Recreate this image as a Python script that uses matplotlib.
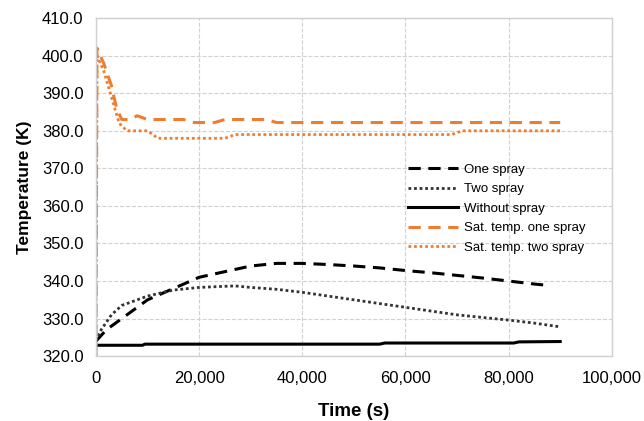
import numpy as np
import matplotlib.pyplot as plt
from matplotlib.ticker import FuncFormatter, MultipleLocator

plt.rcParams['font.family'] = ['Liberation Sans', 'DejaVu Sans']

# time (s) and temperatures (K)
t_one = [0, 2000, 5000, 10000, 15000, 20000, 25000, 30000, 35000, 40000, 45000,
         50000, 55000, 60000, 65000, 70000, 75000, 80000, 85000, 88000]
one_spray = [324.0, 327.0, 330.0, 335.0, 338.0, 341.0, 342.5, 344.0, 344.7, 344.7,
             344.4, 344.0, 343.5, 342.8, 342.2, 341.5, 340.8, 340.0, 339.2, 338.8]

t_two = [0, 1000, 3000, 5000, 10000, 15000, 20000, 25000, 27000, 30000, 35000,
         40000, 45000, 50000, 55000, 60000, 65000, 70000, 75000, 80000, 85000, 90000]
two_spray = [324.0, 327.0, 331.0, 333.5, 336.0, 337.6, 338.3, 338.6, 338.7, 338.3,
             337.8, 337.0, 336.0, 335.0, 334.0, 333.0, 332.0, 331.0, 330.3, 329.6,
             328.8, 327.8]

t_none = [0, 9000, 9500, 55000, 56000, 81000, 82000, 90000]
no_spray = [322.9, 322.9, 323.2, 323.2, 323.5, 323.5, 323.8, 323.9]

t_sat1 = [0, 200, 1500, 3000, 4000, 5000, 6500, 8000, 10000, 17000, 19000, 23000,
          25000, 33000, 35000, 90000]
sat_one = [320.0, 402.0, 398.0, 392.0, 386.0, 383.0, 383.0, 384.0, 383.0, 383.0,
           382.2, 382.2, 383.0, 383.0, 382.2, 382.2]

t_sat2 = [0, 200, 1500, 3000, 4500, 6000, 10000, 12000, 25000, 27000, 69000,
          71000, 90000]
sat_two = [320.0, 400.0, 396.0, 389.0, 382.0, 380.0, 380.0, 378.0, 378.0, 379.0,
           379.0, 380.0, 380.0]

orange = '#ED7D31'

fig = plt.figure(figsize=(6.44, 4.21), dpi=100)
ax = fig.add_axes([0.149, 0.154, 0.801, 0.803])

ax.plot(t_one, one_spray, color='black', ls=(0, (4, 2.5)), lw=2.2, label='One spray')
ax.plot(t_two, two_spray, color='#333333', ls=(0, (1, 1)), lw=2.0, label='Two spray')
ax.plot(t_none, no_spray, color='black', ls='-', lw=2.2, label='Without spray')
ax.plot(t_sat1, sat_one, color=orange, ls=(0, (4, 2.5)), lw=2.2, label='Sat. temp. one spray')
ax.plot(t_sat2, sat_two, color=orange, ls=(0, (1, 1)), lw=2.0, label='Sat. temp. two spray')

ax.set_xlim(0, 100000)
ax.set_ylim(320, 410)
ax.xaxis.set_major_locator(MultipleLocator(20000))
ax.yaxis.set_major_locator(MultipleLocator(10))
ax.xaxis.set_major_formatter(FuncFormatter(lambda v, p: f'{int(v):,}'))
ax.yaxis.set_major_formatter(FuncFormatter(lambda v, p: f'{v:.1f}'))
ax.tick_params(labelsize=12, length=0)
ax.tick_params(axis='y', pad=9)
ax.tick_params(axis='x', pad=11)

ax.grid(True, color='#d0d0d0', ls='--', lw=0.8)
ax.set_axisbelow(True)
for s in ax.spines.values():
    s.set_color('#d0d0d0')
    s.set_linewidth(1.0)

ax.set_xlabel('Time (s)', fontsize=13.5, fontweight='bold', labelpad=12)
ax.set_ylabel('Temperature (K)', fontsize=12.5, fontweight='bold', labelpad=7)

ax.legend(loc='upper left', bbox_to_anchor=(0.582, 0.605), frameon=False, fontsize=9.5,
          handlelength=3.8, labelspacing=0.55, handletextpad=0.45)

plt.savefig('out.png', dpi=100)
